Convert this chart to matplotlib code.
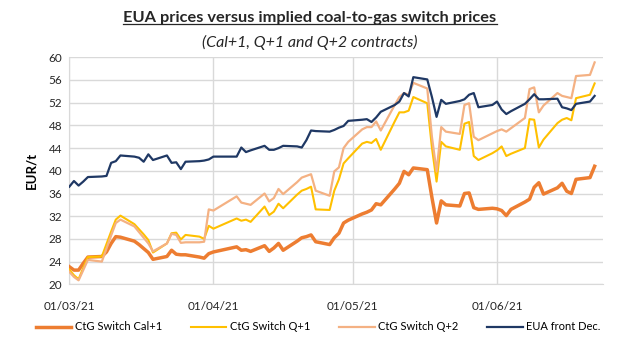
import matplotlib
matplotlib.use("Agg")
import matplotlib.pyplot as plt
import matplotlib.dates as mdates
import pandas as pd
from matplotlib.lines import Line2D

# ---- data -------------------------------------------------------------
holidays = ["2021-04-02", "2021-04-05"]
dates = pd.bdate_range("2021-03-01", "2021-06-22")
dates = dates[~dates.isin(pd.to_datetime(holidays))]

cal1 = [23.1, 22.5, 22.5, 23.7, 24.8,
        24.9, 25.7, 27.2, 28.4, 28.3,
        27.6, 27.0, 26.3, 25.6, 24.4,
        24.9, 26.0, 25.3, 25.2, 25.2,
        24.8, 24.6, 25.4,
        25.7,
        26.6, 26.0, 26.1, 25.8,
        26.8, 25.8, 26.4, 27.2, 26.0,
        27.6, 28.2, 28.4, 28.7, 27.5,
        27.0, 28.2, 29.0, 30.8, 31.3,
        32.4, 32.7, 33.1, 34.2, 34.0,
        36.8, 37.8, 39.9, 39.3, 40.5,
        40.2, 35.3, 30.8, 34.7, 34.0,
        33.8, 36.0, 36.1, 33.5, 33.2,
        33.4,
        33.3, 33.0, 32.1, 33.2,
        34.5, 35.0, 37.1, 37.9, 35.9,
        37.0, 37.8, 36.4, 36.0, 38.5,
        38.8, 40.8]

q1 = [22.6, 21.6, 20.9, 22.9, 24.8,
      24.9, 27.1, 29.3, 31.4, 32.1,
      30.6, 29.7, 28.8, 27.8, 25.6,
      27.2, 29.0, 29.1, 27.9, 28.7,
      28.4, 28.0, 30.3,
      29.8,
      31.6, 31.2, 31.4, 31.0,
      33.7, 32.2, 32.8, 34.2, 33.4,
      35.8, 36.5, 36.8, 37.2, 33.2,
      33.1, 36.5, 38.5, 41.3, 42.2,
      44.8, 45.1, 44.9, 45.6, 43.7,
      48.7, 50.3, 50.3, 50.6, 53.0,
      51.9, 44.1, 38.1, 45.1, 44.3,
      43.7, 48.3, 48.6, 42.6, 41.9,
      43.1,
      43.6, 44.3, 42.6, 43.0,
      44.0, 49.1, 49.0, 44.1, 45.5,
      48.4, 49.0, 49.3, 48.9, 52.8,
      53.4, 55.4]

q2 = [22.2, 21.3, 20.7, 22.5, 24.3,
      24.0, 26.3, 28.6, 30.8, 31.4,
      30.2, 29.2, 28.2, 27.2, 25.8,
      27.2, 28.9, 28.7, 27.3, 27.4,
      27.4, 27.5, 33.2,
      33.0,
      35.5, 34.4, 34.2, 34.0,
      36.0, 34.6, 35.2, 36.8, 35.9,
      38.0, 38.8, 39.1, 39.4, 36.5,
      35.6, 39.9, 40.6, 44.0, 45.1,
      47.3, 47.7, 47.7, 48.7, 47.1,
      51.6, 53.0, 53.7, 53.4, 55.5,
      54.5, 46.0, 39.9, 47.7, 46.9,
      46.5, 51.6, 51.9, 46.0, 45.4,
      46.6,
      47.0, 47.3, 46.9, 47.5,
      49.3, 54.4, 54.7, 50.3, 51.5,
      53.7, 53.2, 53.0, 52.8, 56.7,
      56.9, 59.1]

eua = [37.2, 38.2, 37.4, 38.1, 38.9,
       39.0, 39.1, 41.4, 41.7, 42.7,
       42.5, 42.3, 41.6, 42.9, 41.9,
       42.7, 41.4, 41.5, 40.3, 41.6,
       41.7, 41.8, 42.0,
       42.5,
       42.5, 44.1, 43.3, 43.6,
       44.4, 43.7, 43.7, 44.0, 44.4,
       44.3, 44.1, 45.4, 47.1, 47.0,
       46.9, 47.2, 47.6, 47.9, 48.8,
       49.0, 49.1, 48.6, 49.4, 50.4,
       51.6, 52.2, 53.7, 53.1, 56.5,
       56.1, 53.0, 49.5, 52.5, 51.8,
       52.3, 52.6, 53.4, 53.7, 51.2,
       51.6,
       52.2, 50.8, 50.0, 50.5,
       51.8, 52.6, 53.5, 52.6, 52.6,
       52.7, 51.2, 51.0, 50.7, 51.8,
       52.2, 53.2]

labels = ["CtG Switch Cal+1", "CtG Switch Q+1", "CtG Switch Q+2", "EUA front Dec."]
title = "EUA prices versus implied coal-to-gas switch prices"
subtitle = "(Cal+1, Q+1 and Q+2 contracts)"
ylabel = "EUR/t"
yticks = list(range(20, 61, 4))

# ---- style ------------------------------------------------------------
FONT = "Lato"
plt.rcParams["font.family"] = [FONT, "DejaVu Sans"]
colors = ["#ED7D31", "#FFC000", "#F4B183", "#1F3864"]
widths = [2.5, 1.5, 1.6, 1.6]
grid_c = "#D9D9D9"

fig = plt.figure(figsize=(6.34, 3.38), dpi=100)
ax = fig.add_axes([69.3 / 634, 1 - 284.3 / 338, (603 - 69.3) / 634, (284.3 - 57.3) / 338])

series = [cal1, q1, q2, eua]
for vals, c, lw, lab in zip(series, colors, widths, labels):
    ax.plot(dates, vals, color=c, lw=lw, label=lab, solid_joinstyle="round", zorder=3)

start = pd.Timestamp("2021-03-01")
ax.set_xlim(start, start + pd.Timedelta(days=114.8))
ax.set_ylim(20, 60)
ax.set_yticks(yticks)
ax.xaxis.set_major_locator(mdates.MonthLocator(bymonthday=1))
ax.xaxis.set_major_formatter(mdates.DateFormatter("%d/%m/%y"))
ax.grid(True, color=grid_c, lw=1.0, zorder=0)
for s in ["top", "right"]:
    ax.spines[s].set_visible(False)
ax.spines["left"].set_color(grid_c)
ax.spines["bottom"].set_color(grid_c)
ax.tick_params(axis="both", length=0, labelsize=8.5, colors="#262626")
ax.tick_params(axis="x", pad=12)
ax.tick_params(axis="y", pad=5)
ax.set_ylabel(ylabel, fontsize=9.5, fontweight="bold", labelpad=8)

fig.text(310 / 634, 1 - 18 / 338, title, ha="center", va="center",
         fontsize=11.8, fontweight="bold", color="#262626")
fig.text(310 / 634, 1 - 42 / 338, subtitle, ha="center", va="center",
         fontsize=11.5, style="italic", color="#262626")

# underline under the title
fig.canvas.draw()
t = fig.texts[0]
bb = t.get_window_extent(renderer=fig.canvas.get_renderer())
inv = fig.transFigure.inverted()
(x0, y0), (x1, y1) = inv.transform([(bb.x0, bb.y0), (bb.x1, bb.y0)])
fig.add_artist(Line2D([x0, x1], [y0 + 0.004, y0 + 0.004], transform=fig.transFigure,
                      color="#262626", lw=0.9))

fig.legend(loc="center", bbox_to_anchor=(318 / 634, 1 - 327 / 338), ncol=4, frameon=False,
           fontsize=8, handlelength=3.2, handletextpad=0.3, columnspacing=2.6)

fig.savefig("out.png", dpi=100)
